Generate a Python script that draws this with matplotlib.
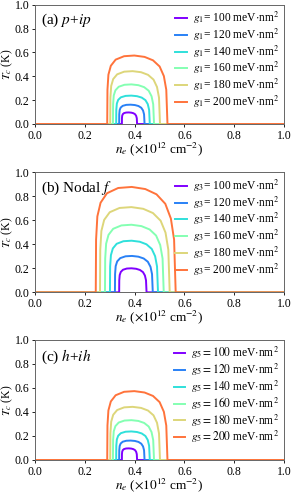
import numpy as np
import matplotlib
matplotlib.use("Agg")
import matplotlib.pyplot as plt

plt.rcParams['font.family'] = ['Liberation Serif', 'DejaVu Serif']
plt.rcParams['mathtext.fontset'] = 'stix'

g_values = [100, 120, 140, 160, 180, 200]
x_ticks = [0.0, 0.2, 0.4, 0.6, 0.8, 1.0]
y_ticks = [0.0, 0.2, 0.4, 0.6, 0.8, 1.0]

# ---- panel (a) p+ip : n_e and Tc points for each g1 ----
a_x_100 = [0.349, 0.3492, 0.3502, 0.3527, 0.3575, 0.3661, 0.3765, 0.3868, 0.3954, 0.4021, 0.4063, 0.4088, 0.410]
a_y_100 = [0, 0.0485, 0.0698, 0.0825, 0.0912, 0.0960, 0.097, 0.0951, 0.0902, 0.0815, 0.0679, 0.0485, 0]
a_x_120 = [0.338, 0.3384, 0.3400, 0.3441, 0.3523, 0.3666, 0.3839, 0.4012, 0.4155, 0.4267, 0.4339, 0.4380, 0.440]
a_y_120 = [0, 0.081, 0.1166, 0.1377, 0.1523, 0.1604, 0.162, 0.1588, 0.1507, 0.1361, 0.1134, 0.081, 0]
a_x_140 = [0.326, 0.3265, 0.3287, 0.3341, 0.3449, 0.3638, 0.3868, 0.4097, 0.4286, 0.4435, 0.4529, 0.4583, 0.461]
a_y_140 = [0, 0.119, 0.1714, 0.2023, 0.2237, 0.2356, 0.238, 0.2332, 0.2213, 0.1999, 0.1666, 0.119, 0]
a_x_160 = [0.313, 0.3137, 0.3163, 0.3229, 0.3361, 0.3592, 0.3873, 0.4153, 0.4384, 0.4566, 0.4681, 0.4747, 0.478]
a_y_160 = [0, 0.166, 0.2390, 0.2822, 0.3121, 0.3287, 0.332, 0.3254, 0.3088, 0.2789, 0.2324, 0.166, 0]
a_x_180 = [0.302, 0.3028, 0.306, 0.314, 0.330, 0.358, 0.392, 0.426, 0.454, 0.476, 0.490, 0.498, 0.502]
a_y_180 = [0, 0.2215, 0.319, 0.3766, 0.4164, 0.4386, 0.443, 0.4341, 0.412, 0.3721, 0.3101, 0.2215, 0]
a_x_200 = [0.290, 0.2910, 0.2948, 0.3045, 0.3239, 0.3578, 0.3989, 0.4400, 0.4739, 0.5005, 0.5175, 0.5272, 0.532]
a_y_200 = [0, 0.287, 0.4133, 0.4879, 0.5396, 0.5683, 0.574, 0.5625, 0.5338, 0.4822, 0.4018, 0.287, 0]

# ---- panel (b) Nodal f : g3 ----
b_x_100 = [0.338, 0.3384, 0.3402, 0.3446, 0.3534, 0.3688, 0.3875, 0.4062, 0.4216, 0.4337, 0.4414, 0.4458, 0.448]
b_y_100 = [0, 0.100, 0.144, 0.170, 0.188, 0.198, 0.200, 0.196, 0.186, 0.168, 0.140, 0.100, 0]
b_x_120 = [0.321, 0.3216, 0.3240, 0.3301, 0.3423, 0.3636, 0.3894, 0.4152, 0.4365, 0.4532, 0.4639, 0.4700, 0.473]
b_y_120 = [0, 0.1515, 0.2182, 0.2576, 0.2848, 0.3000, 0.303, 0.2969, 0.2818, 0.2545, 0.2121, 0.1515, 0]
b_x_140 = [0.301, 0.3018, 0.3049, 0.3126, 0.3280, 0.3550, 0.3879, 0.4207, 0.4477, 0.4689, 0.4824, 0.4901, 0.494]
b_y_140 = [0, 0.215, 0.3096, 0.3655, 0.4042, 0.4257, 0.430, 0.4214, 0.3999, 0.3612, 0.301, 0.215, 0]
b_x_160 = [0.281, 0.2819, 0.2857, 0.2952, 0.3140, 0.3471, 0.3872, 0.4273, 0.4604, 0.4863, 0.5028, 0.5123, 0.517]
b_y_160 = [0, 0.2815, 0.4054, 0.4786, 0.5292, 0.5574, 0.563, 0.5517, 0.5236, 0.4729, 0.3941, 0.2815, 0]
b_x_180 = [0.261, 0.2621, 0.2666, 0.2778, 0.3002, 0.3394, 0.3870, 0.4346, 0.4738, 0.5046, 0.5242, 0.5354, 0.541]
b_y_180 = [0, 0.355, 0.5112, 0.6035, 0.6674, 0.7029, 0.710, 0.6958, 0.6603, 0.5964, 0.497, 0.355, 0]
b_x_200 = [0.244, 0.2453, 0.2504, 0.2633, 0.2889, 0.3339, 0.3885, 0.4430, 0.4880, 0.5233, 0.5457, 0.5586, 0.565]
b_y_200 = [0, 0.439, 0.6322, 0.7463, 0.8253, 0.8692, 0.878, 0.8604, 0.8165, 0.7375, 0.6146, 0.439, 0]

# ---- panel (c) h+ih : g5 (same curves as panel a) ----
c_x_100, c_y_100 = a_x_100, a_y_100
c_x_120, c_y_120 = a_x_120, a_y_120
c_x_140, c_y_140 = a_x_140, a_y_140
c_x_160, c_y_160 = a_x_160, a_y_160
c_x_180, c_y_180 = a_x_180, a_y_180
c_x_200, c_y_200 = a_x_200, a_y_200

panels = [
    ("(a) $p$+$ip$", r"$g_1$= {} meV$\cdot$nm$^2$",
     [(a_x_100, a_y_100), (a_x_120, a_y_120), (a_x_140, a_y_140),
      (a_x_160, a_y_160), (a_x_180, a_y_180), (a_x_200, a_y_200)]),
    ("(b) Nodal $f$", r"$g_3$= {} meV$\cdot$nm$^2$",
     [(b_x_100, b_y_100), (b_x_120, b_y_120), (b_x_140, b_y_140),
      (b_x_160, b_y_160), (b_x_180, b_y_180), (b_x_200, b_y_200)]),
    ("(c) $h$+$ih$", r"$g_5 = {}$ meV$\cdot$nm$^2$",
     [(c_x_100, c_y_100), (c_x_120, c_y_120), (c_x_140, c_y_140),
      (c_x_160, c_y_160), (c_x_180, c_y_180), (c_x_200, c_y_200)]),
]

colors = plt.cm.rainbow(np.linspace(0, 0.85, 6))

W, H = 291, 493
fig = plt.figure(figsize=(W / 100, H / 100), dpi=100)
left, right = 35 / W, 284 / W
tops = [4.7, 172.3, 340.0]
bots = [124.0, 292.3, 460.0]

for (title, lab, curves), t, b in zip(panels, tops, bots):
    ax = fig.add_axes([left, 1 - b / H, right - left, (b - t) / H])
    for g, (xs, ys), c in zip(g_values, curves, colors):
        ax.plot([0.0] + list(xs) + [1.0], [0.0] + list(ys) + [0.0],
                color=c, lw=1.4, label=lab.format(g))
    ax.set_xlim(0, 1)
    ax.set_ylim(0, 1)
    ax.set_xticks(x_ticks)
    ax.set_yticks(y_ticks)
    ax.tick_params(labelsize=8.5, length=2.5, width=0.6, pad=1.5)
    for s in ax.spines.values():
        s.set_linewidth(0.7)
        s.set_color('#666666')
    ax.set_xlabel(r"$n_e$ ($\times 10^{12}$ cm$^{-2}$)", fontsize=9.5)
    ax.xaxis.set_label_coords(0.5, -0.135)
    ax.set_ylabel(r"$T_c$ (K)", fontsize=8.5)
    ax.yaxis.set_label_coords(-0.082, 0.5)
    ax.text(0.025, 0.94, title, transform=ax.transAxes, fontsize=11,
            ha='left', va='top')
    ax.legend(loc='upper right', frameon=False, fontsize=8.3,
              handlelength=1.0, handletextpad=0.5, labelspacing=0.04,
              borderaxespad=0.15, borderpad=0.3)

fig.savefig("out.png", dpi=100)
